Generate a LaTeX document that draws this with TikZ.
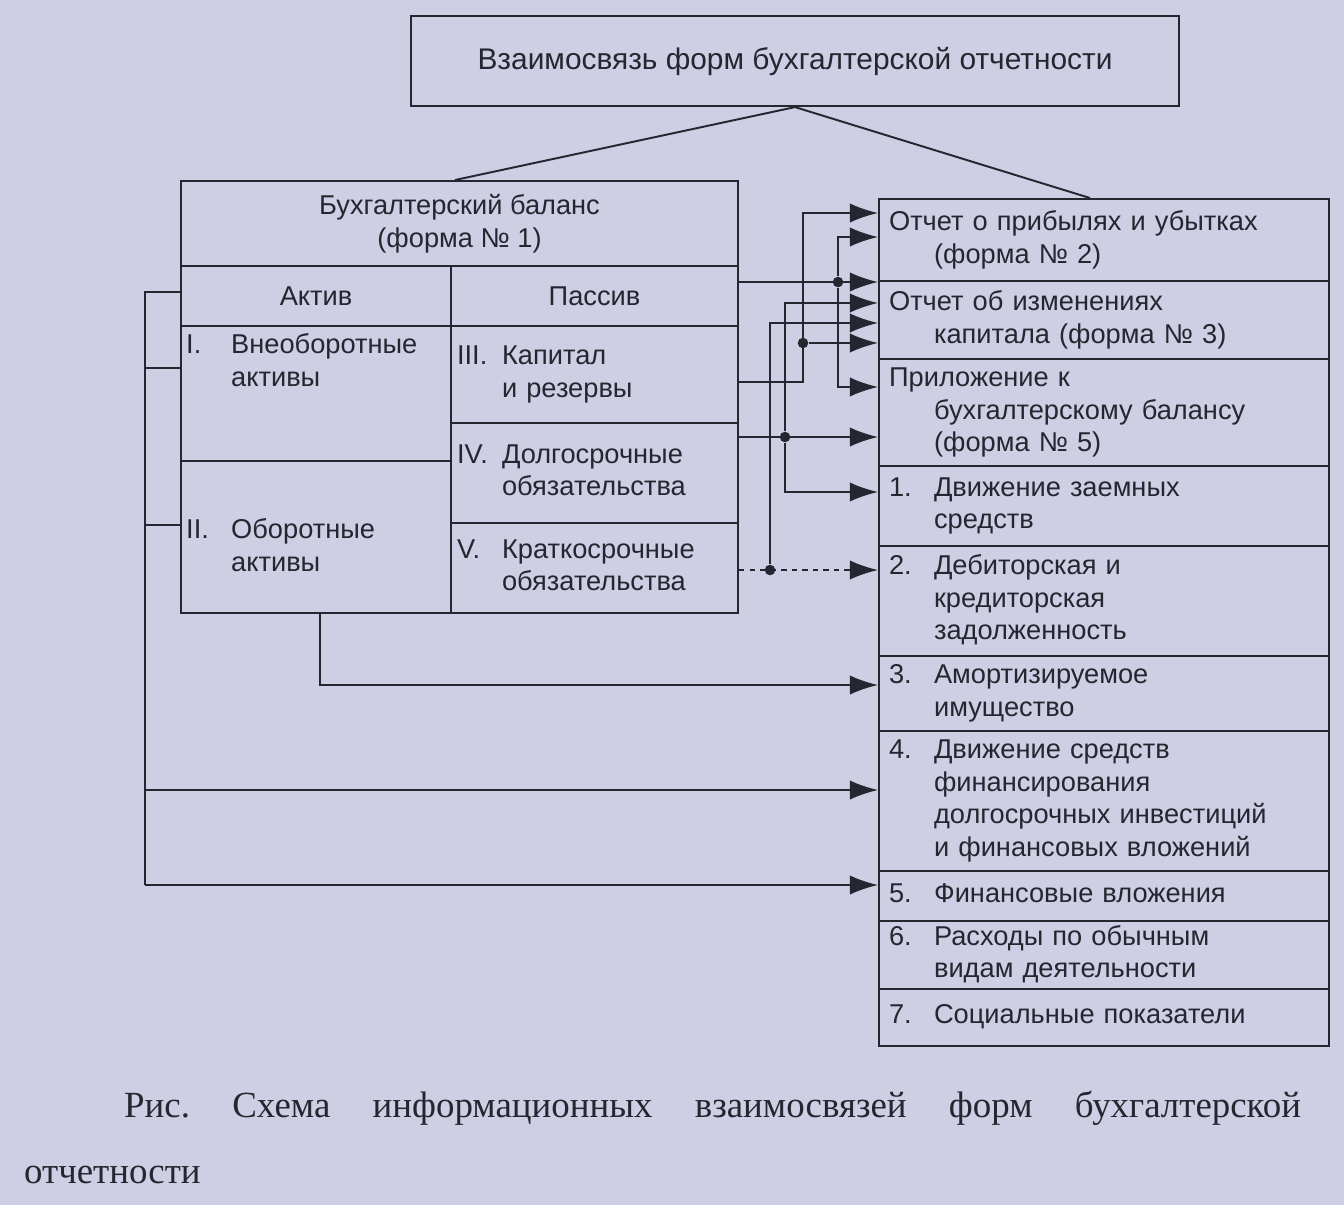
\documentclass[tikz,border=0pt]{standalone}
\usepackage{fontspec}
\setmainfont{Liberation Serif}
\newfontfamily\sansrus{Liberation Sans}
\usetikzlibrary{arrows.meta,positioning}
\definecolor{ink}{RGB}{38,38,48}
\definecolor{paper}{RGB}{206,206,228}
\newcommand\txt{\sansrus\fontsize{15.5}{18.5}\selectfont}
\newcommand\numrow[2]{\makebox[0.9cm][l]{#1}\begin{tabular}[t]{@{}l@{}}#2\end{tabular}}

\begin{document}
\begin{tikzpicture}[x=0.02cm,y=-0.02cm,>={Latex[length=16pt,width=11pt]}]
	\tikzset{
		cell/.style={draw=ink, line width=1.2pt, anchor=north west, inner sep=0pt, font=\txt, text=ink},
		row/.style={cell, text width=8.6cm, align=left, inner xsep=0.2cm, inner ysep=0pt},
		line/.style={draw=ink, line width=1.1pt},
		link/.style={line, ->},
		dot/.style={circle, fill=ink, inner sep=0pt, minimum size=6pt}
	}
	\fill[paper] (0,0) rectangle (1344,1205);
	
	% title
	\node [cell, minimum width=15.36cm, minimum height=1.8cm, font=\sansrus\fontsize{17}{20}\selectfont] (title) at (410,15) {Взаимосвязь форм бухгалтерской отчетности};
	
	% balance sheet
	\node [cell, minimum width=11.14cm, minimum height=1.7cm, align=center] (bal) at (180,180) {Бухгалтерский баланс\\(форма № 1)};
	\node [cell, minimum width=5.4cm, minimum height=1.2cm] (act) at (180,265) {Актив};
	\node [cell, minimum width=5.74cm, minimum height=1.2cm] (pas) at (450,265) {Пассив};
	\node [cell, minimum width=5.4cm, minimum height=2.7cm, label={[font=\txt, text=ink, anchor=north west, align=left]north west:\numrow{I.}{Внеоборотные\\активы}}] (ncur) at (180,325) {};
	\node [cell, minimum width=5.4cm, minimum height=3.04cm, label={[font=\txt, text=ink, anchor=north west, align=left, yshift=-1cm]north west:\numrow{II.}{Оборотные\\активы}}] (cur) at (180,460) {};
	\node [cell, minimum width=5.74cm, minimum height=1.94cm, text width=5.5cm, align=left] (cap) at (450,325) {\numrow{III.}{Капитал\\и резервы}};
	\node [cell, minimum width=5.74cm, minimum height=2cm, text width=5.5cm, align=left] (lt) at (450,422) {\numrow{IV.}{Долгосрочные\\обязательства}};
	\node [cell, minimum width=5.74cm, minimum height=1.8cm, text width=5.5cm, align=left] (st) at (450,522) {\numrow{V.}{Краткосрочные\\обязательства}};
	
	% other forms
	\node [row, minimum height=1.64cm] (f2) at (878,198) {Отчет о прибылях и убытках\\\hspace*{0.9cm}(форма № 2)};
	\node [row, minimum height=1.56cm, below=-1.2pt of f2] (f3) {Отчет об изменениях\\\hspace*{0.9cm}капитала (форма № 3)};
	\node [row, minimum height=2.14cm, below=-1.2pt of f3] (f5) {Приложение к\\\hspace*{0.9cm}бухгалтерскому балансу\\\hspace*{0.9cm}(форма № 5)};
	\node [row, minimum height=1.6cm, below=-1.2pt of f5] (r1) {\numrow{1.}{Движение заемных\\средств}};
	\node [row, minimum height=2.2cm, below=-1.2pt of r1] (r2) {\numrow{2.}{Дебиторская и\\кредиторская\\задолженность}};
	\node [row, minimum height=1.5cm, below=-1.2pt of r2] (r3) {\numrow{3.}{Амортизируемое\\имущество}};
	\node [row, minimum height=2.8cm, below=-1.2pt of r3] (r4) {\numrow{4.}{Движение средств\\финансирования\\долгосрочных инвестиций\\и финансовых вложений}};
	\node [row, minimum height=1cm, below=-1.2pt of r4] (r5) {\numrow{5.}{Финансовые вложения}};
	\node [row, minimum height=1.36cm, below=-1.2pt of r5] (r6) {\numrow{6.}{Расходы по обычным\\видам деятельности}};
	\node [row, minimum height=1.14cm, below=-1.2pt of r6] (r7) {\numrow{7.}{Социальные показатели}};
	
	\draw [line] (title.south) -- (bal.north -| 455,0);
	\draw [line] (title.south) -- (f2.north -| 1090,0);
	
	% capital
	\draw [link] (cap.east |- 0,382) -| (803,213) -- (f2.west |- 0,213);
	\node [dot] (d1) at (803,343) {};
	\draw [link] (d1) -- (f3.west |- d1);
	% header row
	\draw [link] (pas.east |- 0,282) -- (f3.west |- 0,282);
	\node [dot] (d2) at (838,282) {};
	\draw [link] (d2) |- (f2.west |- 0,237);
	\draw [link] (d2) |- (f5.west |- 0,387);
	% long-term
	\draw [link] (lt.east |- 0,437) -- (f5.west |- 0,437);
	\node [dot] (d3) at (785,437) {};
	\draw [link] (d3) |- (f3.west |- 0,303);
	\draw [link] (d3) |- (r1.west |- 0,492);
	% short-term
	\draw [link, dashed] (st.east |- 0,570) -- (r2.west |- 0,570);
	\node [dot] (d4) at (770,570) {};
	\draw [link] (d4) |- (f3.west |- 0,323);
	
	% assets
	\coordinate (bt) at (145,292);
	\coordinate (bb) at (145,885);
	\draw [line] (act.west |- bt) -- (bt) -- (bb);
	\draw [line] (ncur.west |- 0,368) -- (145,368);
	\draw [line] (cur.west |- 0,525) -- (145,525);
	\draw [link] (145,790) -- (r4.west |- 0,790);
	\draw [link] (bb) -- (r5.west |- bb);
	\draw [link] (cur.south -| 320,0) |- (r3.west |- 0,685);
	
	% caption
	\node [anchor=west, font=\fontsize{21}{26}\selectfont, text=ink] (cap1) at (118,1108) {\makebox[23.54cm][s]{Рис.\hfill Схема\hfill информационных\hfill взаимосвязей\hfill форм\hfill бухгалтерской}};
	\node [anchor=west, font=\fontsize{21}{26}\selectfont, text=ink] (cap2) at (18,1175) {отчетности};
\end{tikzpicture}
\end{document}
